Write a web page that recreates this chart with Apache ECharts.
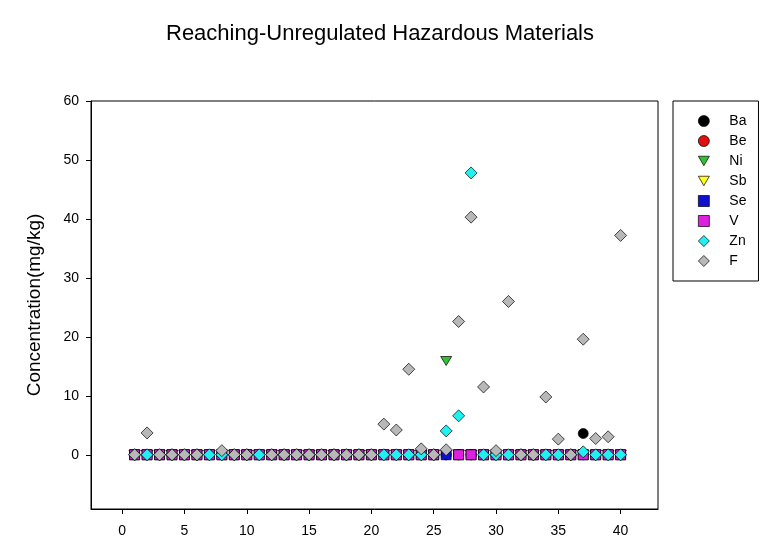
<!DOCTYPE html>
<html>
<head>
<meta charset="utf-8">
<script src="https://cdn.jsdelivr.net/npm/echarts@6/dist/echarts.min.js"></script>
<style>html,body{margin:0;padding:0;background:#fff}#c{width:773px;height:549px}</style>
</head>
<body>
<div id="c"></div>
<script>
const sampleX = [1,2,3,4,5,6,7,8,9,10,11,12,13,14,15,16,17,18,19,20,21,22,23,24,25,26,27,28,29,30,31,32,33,34,35,36,37,38,39,40];
const xTicks = [0,5,10,15,20,25,30,35,40];
const yTicks = [0,10,20,30,40,50,60];

const Ba = [0,0,0,0,0,0,0,0,0,0,0,0,0,0,0,0,0,0,0,0,0,0,0,0,0,0,0,0,0,0,0,0,0,0,0,0,3.6,0,0,0];
const Be = [0,0,0,0,0,0,0,0,0,0,0,0,0,0,0,0,0,0,0,0,0,0,0,0,0,0,0,0,0,0,0,0,0,0,0,0,0,0,0,0];
const Ni = [0,0,0,0,0,0,0,0,0,0,0,0,0,0,0,0,0,0,0,0,0,0,0,0,0,15.9,0,0,0,0,0,0,0,0,0,0,0,0,0,0];
const Sb = [0,0,0,0,0,0,0,0,0,0,0,0,0,0,0,0,0,0,0,0,0,0,0,0,0,0,0,0,0,0,0,0,0,0,0,0,0,0,0,0];
const Se = [0,0,0,0,0,0,0,0,0,0,0,0,0,0,0,0,0,0,0,0,0,0,0,0,0,0,0,0,0,0,0,0,0,0,0,0,0,0,0,0];
const V  = [0,0,0,0,0,0,0,0,0,0,0,0,0,0,0,0,0,0,0,0,0,0,0,0,0,null,0,0,0,0,0,0,0,0,0,0,0,0,0,0];
const Zn = [0,0,0,0,0,0,0,0,0,0,0,0,0,0,0,0,0,0,0,0,0,0,0,0,0,4.05,6.6,47.8,0,0,0,0,0,0,0,0,0.5,0,0,0];
const F  = [0,3.7,0,0,0,0,null,0.7,0,0,null,0,0,0,0,0,0,0,0,0,5.2,4.2,14.5,1.0,0,0.85,22.6,40.3,11.5,0.7,26.0,0,0,9.8,2.65,0,19.6,2.75,3.05,37.2];

const names = ['Ba','Be','Ni','Sb','Se','V','Zn','F'];
const values = [Ba,Be,Ni,Sb,Se,V,Zn,F];
const colors = ['#000000','#e01010','#33c033','#ffff20','#1010d0','#e020e0','#20f0f0','#b8b8b8'];
const tri = 'path://M0,0 L10,0 L5,8.66 Z';
const symbols = ['circle','circle',tri,tri,'rect','rect','diamond','diamond'];
const sizes = [[10,10],[10,10],[11,9],[11,9],[10,10],[10,10],[12,12],[12,12]];

const series = names.map((n,i)=>({
  name: n,
  type: 'scatter',
  symbol: symbols[i],
  symbolSize: sizes[i],
  itemStyle: {color: colors[i], borderColor: '#000', borderWidth: 0.7, opacity: 1},
  emphasis: {disabled: true},
  data: sampleX.map((x,j)=> values[i][j] === null ? null : [x, values[i][j]]).filter(d=>d)
}));

const chart = echarts.init(document.getElementById('c'), null, {renderer:'canvas'});
chart.setOption({
  animation: false,
  backgroundColor: '#fff',
  title: {
    text: 'Reaching-Unregulated Hazardous Materials',
    left: 375, top: 18, textAlign: 'center',
    textStyle: {fontFamily: 'Liberation Sans, Arial, sans-serif', fontSize: 22, fontWeight: 'normal', color: '#000'}
  },
  grid: {left: 91, right: 115, top: 101, bottom: 40, containLabel: false, outerBoundsMode: 'none',
    show: true, borderColor: '#000', borderWidth: 1},
  legend: {
    orient: 'vertical', left: 673, top: 101,
    data: names,
    itemWidth: 11, itemHeight: 11, itemGap: 6,
    padding: [13, 12, 13, 25],
    borderColor: '#000', borderWidth: 1,
    align: 'left',
    itemStyle: {borderWidth: 0.7},
    textStyle: {fontFamily: 'Liberation Sans, Arial, sans-serif', fontSize: 14, color: '#000', padding: [0,0,0,15]},
    selectedMode: false
  },
  xAxis: {
    type: 'value', min: -2.5, max: 43,
    axisLine: {show: true, onZero: false, lineStyle: {color: '#000', width: 1}},
    axisTick: {show: true, length: 5, inside: false, customValues: xTicks, lineStyle: {color: '#000'}},
    axisLabel: {customValues: xTicks, margin: 15, fontFamily: 'Liberation Sans, Arial, sans-serif', fontSize: 14, color: '#000'},
    splitLine: {show: false}
  },
  yAxis: {
    type: 'value', min: -9.2, max: 60,
    name: 'Concentration(mg/kg)', nameLocation: 'middle', nameGap: 47, nameRotate: 90,
    nameTextStyle: {fontFamily: 'Liberation Sans, Arial, sans-serif', fontSize: 19, color: '#000'},
    axisLine: {show: true, onZero: false, lineStyle: {color: '#000', width: 1}},
    axisTick: {show: true, length: 5, inside: false, customValues: yTicks, lineStyle: {color: '#000'}},
    axisLabel: {customValues: yTicks, margin: 12, fontFamily: 'Liberation Sans, Arial, sans-serif', fontSize: 14, color: '#000'},
    splitLine: {show: false}
  },
  series: series
});
</script>
</body>
</html>
